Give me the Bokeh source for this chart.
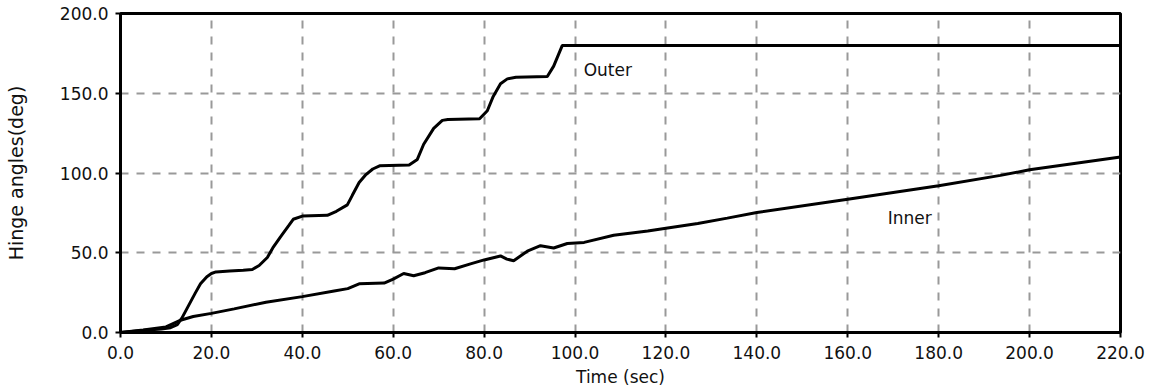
from bokeh.plotting import figure
from bokeh.models import Range1d, FixedTicker, Label
from bokeh.embed import file_html
from bokeh.resources import INLINE

# ---- data ----
outer_t = [0, 3, 6, 9, 11, 12.5, 13.5, 15, 16.5, 17.6, 19, 20, 21, 24, 27, 29,
           30.5, 32.3, 33.5, 35.2, 37, 38, 40, 45.5, 47.5, 49.9, 51, 52.5, 54,
           55.5, 57, 63.5, 65.3, 66.7, 68.9, 70.8, 72, 79, 80.7, 82, 83.6, 85.1,
           87, 93.9, 95.3, 97.2, 98, 220]
outer_deg = [0, 0.8, 1.5, 2.2, 3, 5, 9, 17, 25, 30.5, 35, 37, 38, 38.5, 39, 39.5,
             42, 47, 53, 60, 67, 71, 73, 73.5, 76, 80, 86, 94, 99,
             102.5, 104.5, 105, 108.5, 118, 128, 133, 133.5, 134, 139, 148, 156, 159,
             160, 160.5, 167, 180, 180, 180]

inner_t = [0, 5, 10, 13, 16, 20, 25, 32, 40, 47, 50, 52.5, 58, 60, 62.3, 64.5,
           67, 70, 73.5, 77, 80, 83.6, 85, 86.5, 89.5, 92.4, 95.3, 98.3, 102,
           108.5, 116, 120, 127, 133.5, 140, 160, 180, 193.6, 200, 220]
inner_deg = [0, 1.5, 3.5, 7.5, 10, 12, 14.8, 19, 22.5, 26, 27.5, 30.5, 31, 33.5, 37, 35.6,
             37.5, 40.5, 40, 43, 45.5, 48, 46, 45, 51, 54.4, 53, 55.8, 56.5,
             61, 63.7, 65.4, 68.3, 71.7, 75.2, 83.5, 92, 98.5, 102, 110]

x_ticks = [0, 20, 40, 60, 80, 100, 120, 140, 160, 180, 200, 220]
y_ticks = [0, 50, 100, 150, 200]

series_labels = ["Outer", "Inner"]
label_t = [101.9, 168.8]
label_deg = [164.3, 72.0]

FONT = "DejaVu Sans"

p = figure(width=1149, height=390, output_backend="svg", toolbar_location=None,
           x_range=Range1d(0, 220), y_range=Range1d(0, 200),
           min_border_left=120, min_border_right=29, min_border_top=13,
           min_border_bottom=58)
p.background_fill_color = "white"
p.border_fill_color = "white"
p.outline_line_color = "black"
p.outline_line_width = 3

for ax in (p.xaxis[0], p.yaxis[0]):
    ax.axis_line_width = 3
    ax.axis_line_color = "black"
    ax.major_tick_line_width = 2
    ax.major_tick_line_color = "black"
    ax.major_tick_out = 5
    ax.major_tick_in = 0
    ax.minor_tick_line_color = None
    ax.major_label_text_font = FONT
    ax.major_label_text_font_size = "17px"
    ax.major_label_text_color = "#111111"
    ax.axis_label_text_font = FONT
    ax.axis_label_text_font_style = "normal"
    ax.axis_label_text_font_size = "17px"
    ax.axis_label_text_color = "#111111"

p.xaxis.ticker = FixedTicker(ticks=x_ticks)
p.yaxis.ticker = FixedTicker(ticks=y_ticks)
p.xaxis.major_label_overrides = {t: f"{t:.1f}" for t in x_ticks}
p.yaxis.major_label_overrides = {t: f"{t:.1f}" for t in y_ticks}
p.xaxis.major_label_standoff = 8
p.yaxis.major_label_standoff = 7
p.xaxis.axis_label = "Time (sec)"
p.yaxis.axis_label = "Hinge angles(deg)"
p.xaxis.axis_label_standoff = 5
p.yaxis.axis_label_standoff = 30
p.yaxis.axis_label_text_font_size = "19px"

p.xgrid.ticker = FixedTicker(ticks=x_ticks[1:-1])
p.ygrid.ticker = FixedTicker(ticks=y_ticks[1:-1])
for g in (p.xgrid[0], p.ygrid[0]):
    g.grid_line_color = "#999999"
    g.grid_line_width = 2
    g.grid_line_dash = "8 8"

p.line(outer_t, outer_deg, line_color="black", line_width=3)
p.line(inner_t, inner_deg, line_color="black", line_width=3)

for name, lt, ld in zip(series_labels, label_t, label_deg):
    p.add_layout(Label(x=lt, y=ld, text=name, text_font=FONT,
                       text_font_size="17px", text_color="#111111",
                       text_baseline="alphabetic"))

open("out.html", "w").write(file_html(p, INLINE))
